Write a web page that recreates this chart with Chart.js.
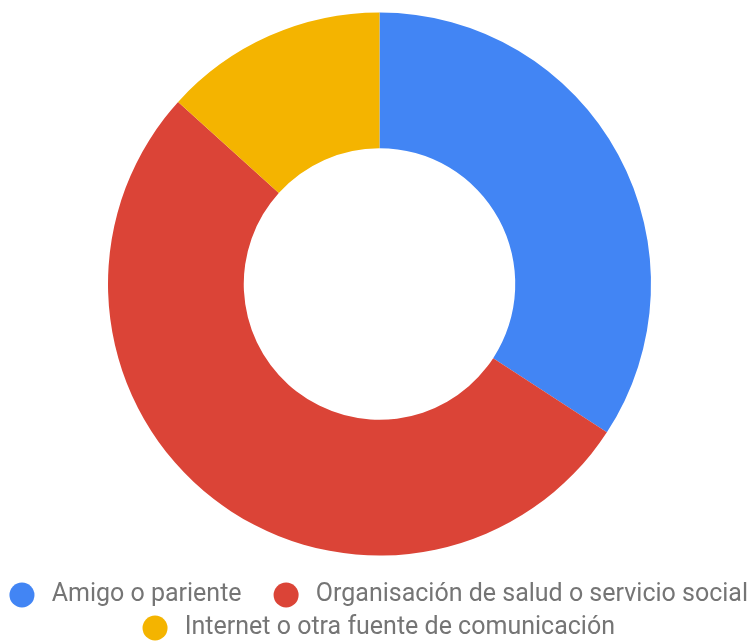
<!DOCTYPE html>
<html>
<head>
<meta charset="utf-8">
<script src="https://cdn.jsdelivr.net/npm/chart.js@4/dist/chart.umd.min.js"></script>
<style>
  html, body { margin: 0; padding: 0; background: #ffffff; overflow: hidden; }
  #wrap { width: 754px; height: 641px; overflow: hidden; }
  canvas { display: block; }
</style>
</head>
<body>
<div id="wrap"><canvas id="c" width="759" height="641"></canvas></div>
<script>
const categories = ['Amigo o pariente', 'Organisación de salud o servicio social', 'Internet o otra fuente de comunicación'];
const values = [34.2, 52.5, 13.3];
const colors = ['#4285F4', '#DB4437', '#F4B400'];

new Chart(document.getElementById('c'), {
  type: 'doughnut',
  data: {
    labels: categories,
    datasets: [{
      data: values,
      backgroundColor: colors,
      borderWidth: 0,
      hoverOffset: 0,
      radius: 271.5,
      cutout: '50%'
    }]
  },
  options: {
    responsive: false,
    animation: false,
    layout: { padding: 0 },
    plugins: {
      tooltip: { enabled: false },
      legend: {
        position: 'bottom',
        maxHeight: 73,
        title: { display: true, text: '', font: { size: 1, lineHeight: 1 }, padding: { top: 5.5, bottom: 0 } },
        labels: {
          usePointStyle: true,
          pointStyle: 'circle',
          boxWidth: 22,
          boxHeight: 17.7,
          padding: 8,
          color: '#757575',
          font: { family: 'Roboto', size: 25 },
          generateLabels(chart) {
            const items = Chart.overrides.doughnut.plugins.legend.labels.generateLabels(chart);
            items.forEach((it, i) => {
              it.text = ' ' + it.text + (i === 0 ? '\u2002\u2002' : '');
              it.lineWidth = 0;
            });
            return items;
          }
        }
      }
    }
  }
});
</script>
</body>
</html>
